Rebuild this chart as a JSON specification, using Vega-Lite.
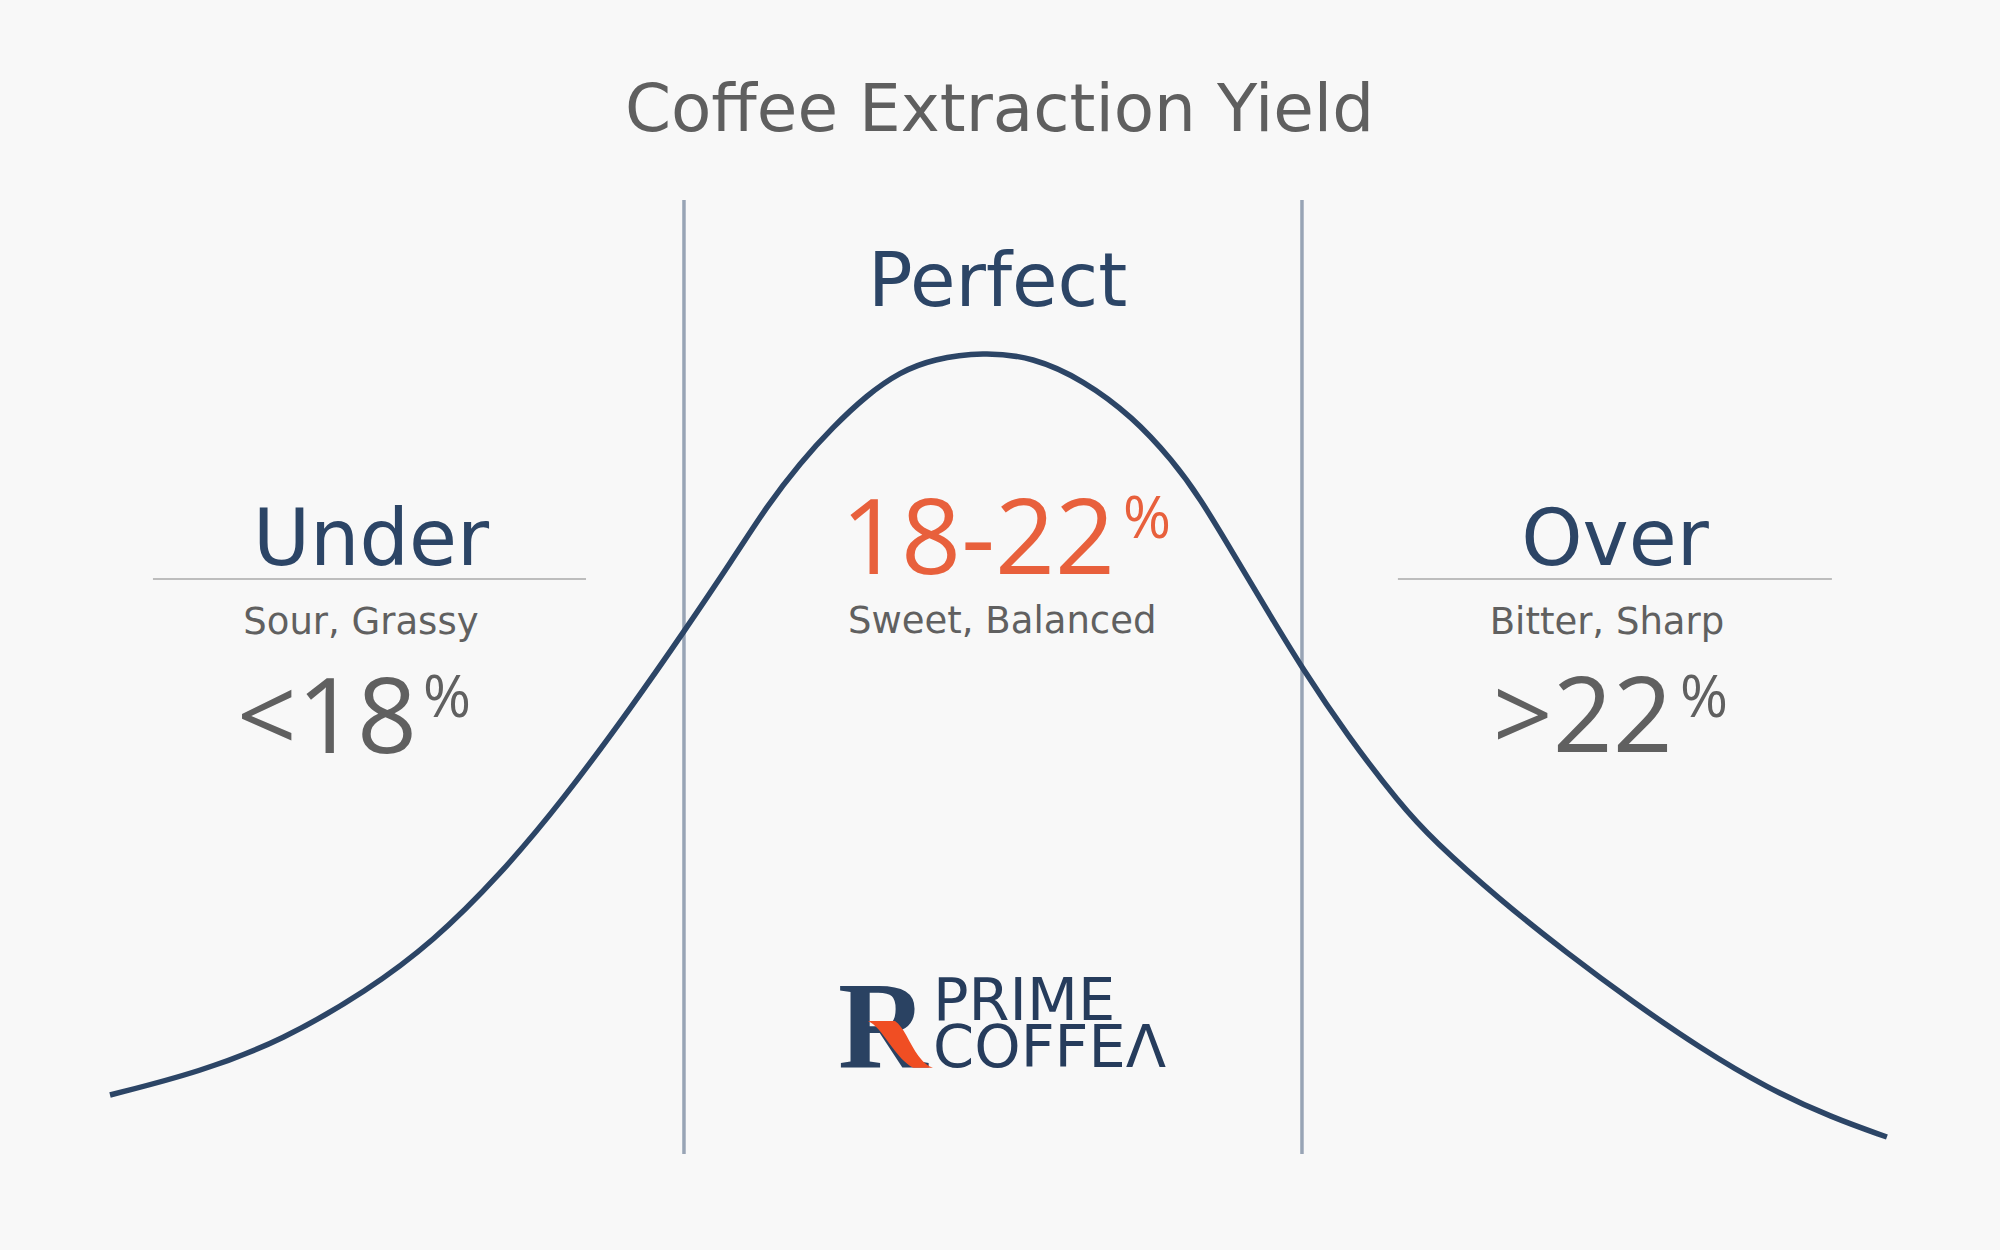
{
  "$schema": "https://vega.github.io/schema/vega-lite/v6.json",
  "width": 2000,
  "height": 1250,
  "autosize": {"type": "fit", "contains": "padding"},
  "padding": 0,
  "background": "#f8f8f8",
  "config": {"view": {"stroke": null}, "font": "DejaVu Sans"},
  "datasets": {
    "curve": [
      {"yield": 14.285, "level": 15.5}, {"yield": 14.867, "level": 17.8}, {"yield": 15.405, "level": 21.0},
      {"yield": 15.948, "level": 25.9}, {"yield": 16.375, "level": 30.8}, {"yield": 16.809, "level": 37.5},
      {"yield": 17.217, "level": 45.0}, {"yield": 17.670, "level": 54.5}, {"yield": 17.994, "level": 61.7},
      {"yield": 18.317, "level": 69.1}, {"yield": 18.537, "level": 74.4}, {"yield": 18.751, "level": 78.7},
      {"yield": 18.964, "level": 82.3}, {"yield": 19.184, "level": 85.5}, {"yield": 19.398, "level": 87.8},
      {"yield": 19.612, "level": 89.1}, {"yield": 19.935, "level": 89.8}, {"yield": 20.259, "level": 89.3},
      {"yield": 20.583, "level": 87.0}, {"yield": 20.906, "level": 83.3}, {"yield": 21.165, "level": 78.9},
      {"yield": 21.340, "level": 75.2}, {"yield": 21.553, "level": 69.7}, {"yield": 21.773, "level": 64.0},
      {"yield": 22.000, "level": 58.2}, {"yield": 22.291, "level": 51.5}, {"yield": 22.634, "level": 44.6},
      {"yield": 22.848, "level": 41.0}, {"yield": 23.282, "level": 35.0}, {"yield": 23.715, "level": 29.7},
      {"yield": 24.142, "level": 24.8}, {"yield": 24.576, "level": 20.2}, {"yield": 25.010, "level": 16.2},
      {"yield": 25.437, "level": 13.2}, {"yield": 25.786, "level": 11.3}
    ],
    "bounds": [
      {"yield": 18, "top": 105, "bottom": 9.6},
      {"yield": 22, "top": 105, "bottom": 9.6}
    ],
    "dividers": [
      {"from": 14.563, "to": 17.366, "level": 67.1},
      {"from": 22.621, "to": 25.430, "level": 67.1}
    ],
    "title": [{"yield": 20.042, "level": 111.9, "label": "Coffee Extraction Yield"}],
    "heads": [
      {"yield": 15.974, "level": 68.5, "label": "Under", "size": "big"},
      {"yield": 20.03, "level": 94.4, "label": "Perfect", "size": "small"},
      {"yield": 24.026, "level": 68.5, "label": "Over", "size": "big"}
    ],
    "notes": [
      {"yield": 15.909, "level": 61.6, "label": "Sour, Grassy"},
      {"yield": 20.06, "level": 61.7, "label": "Sweet, Balanced"},
      {"yield": 23.974, "level": 61.6, "label": "Bitter, Sharp"}
    ],
    "ranges": [
      {"yield": 16.272, "level": 49.7, "label": "<18", "tone": "out"},
      {"yield": 20.790, "level": 67.6, "label": "18-22", "tone": "in"},
      {"yield": 24.401, "level": 49.8, "label": ">22", "tone": "out"}
    ],
    "percents": [
      {"yield": 16.311, "level": 53.3, "label": "%", "tone": "out"},
      {"yield": 20.841, "level": 71.2, "label": "%", "tone": "in"},
      {"yield": 24.447, "level": 53.3, "label": "%", "tone": "out"}
    ],
    "logoR": [{"yield": 18.997, "level": 18.2, "label": "R"}],
    "logoLeg": [{"yield": 19.398, "level": 20.6}],
    "logoWords": [
      {"yield": 19.612, "level": 23.0, "label": "PRIME"},
      {"yield": 19.612, "level": 18.3, "label": "COFFEΛ"}
    ]
  },
  "encoding": {
    "x": {"field": "yield", "type": "quantitative", "scale": {"domain": [13.573, 26.518], "nice": false, "zero": false}, "axis": null},
    "y": {"field": "level", "type": "quantitative", "scale": {"domain": [0, 125], "nice": false, "zero": false}, "axis": null}
  },
  "layer": [
    {
      "data": {"name": "bounds"},
      "mark": {"type": "rule", "color": "#98a4b5", "strokeWidth": 3.5},
      "encoding": {
        "y": {"field": "top", "type": "quantitative"},
        "y2": {"field": "bottom"}
      }
    },
    {
      "data": {"name": "dividers"},
      "mark": {"type": "rule", "color": "#bdbdbd", "strokeWidth": 2},
      "encoding": {
        "x": {"field": "from", "type": "quantitative"},
        "x2": {"field": "to"}
      }
    },
    {
      "data": {"name": "curve"},
      "mark": {"type": "line", "color": "#2c4566", "strokeWidth": 5.5, "interpolate": "basis", "strokeCap": "butt"},
      "encoding": {}
    },
    {
      "data": {"name": "title"},
      "mark": {"type": "text", "fontSize": 66, "color": "#5f5f5f", "align": "center", "baseline": "alphabetic"},
      "encoding": {"text": {"field": "label"}}
    },
    {
      "data": {"name": "heads"},
      "mark": {"type": "text", "color": "#2c4566", "align": "center", "baseline": "alphabetic"},
      "encoding": {
        "text": {"field": "label"},
        "size": {"field": "size", "type": "nominal", "scale": {"domain": ["big", "small"], "range": [78, 74]}, "legend": null}
      }
    },
    {
      "data": {"name": "notes"},
      "mark": {"type": "text", "fontSize": 37, "color": "#606060", "align": "center", "baseline": "alphabetic"},
      "encoding": {"text": {"field": "label"}}
    },
    {
      "data": {"name": "ranges"},
      "mark": {"type": "text", "font": "Open Sans", "fontSize": 105, "align": "right", "baseline": "alphabetic"},
      "encoding": {
        "text": {"field": "label"},
        "color": {"field": "tone", "type": "nominal", "scale": {"domain": ["out", "in"], "range": ["#606060", "#e8603c"]}, "legend": null}
      }
    },
    {
      "data": {"name": "percents"},
      "mark": {"type": "text", "font": "Open Sans", "fontSize": 58, "align": "left", "baseline": "alphabetic"},
      "encoding": {
        "text": {"field": "label"},
        "color": {"field": "tone", "type": "nominal", "legend": null}
      }
    },
    {
      "data": {"name": "logoR"},
      "mark": {"type": "text", "fontSize": 124, "font": "Liberation Serif", "fontWeight": "bold", "color": "#2a4262", "align": "left", "baseline": "alphabetic"},
      "encoding": {"text": {"field": "label"}}
    },
    {
      "data": {"name": "logoLeg"},
      "mark": {"type": "point", "filled": true, "color": "#f04e23", "opacity": 1, "size": 4356,
        "shape": "M-0.97,-0.7 L-0.15,-0.7 C0.1,-0.55 0.3,0 0.55,0.35 C0.7,0.55 0.85,0.68 1,0.72 L0.4,0.72 C0.15,0.6 -0.05,0.35 -0.35,-0.05 C-0.55,-0.35 -0.75,-0.6 -0.97,-0.7 Z"}
    },
    {
      "data": {"name": "logoWords"},
      "mark": {"type": "text", "fontSize": 59, "color": "#263c5c", "align": "left", "baseline": "alphabetic"},
      "encoding": {"text": {"field": "label"}}
    }
  ]
}
